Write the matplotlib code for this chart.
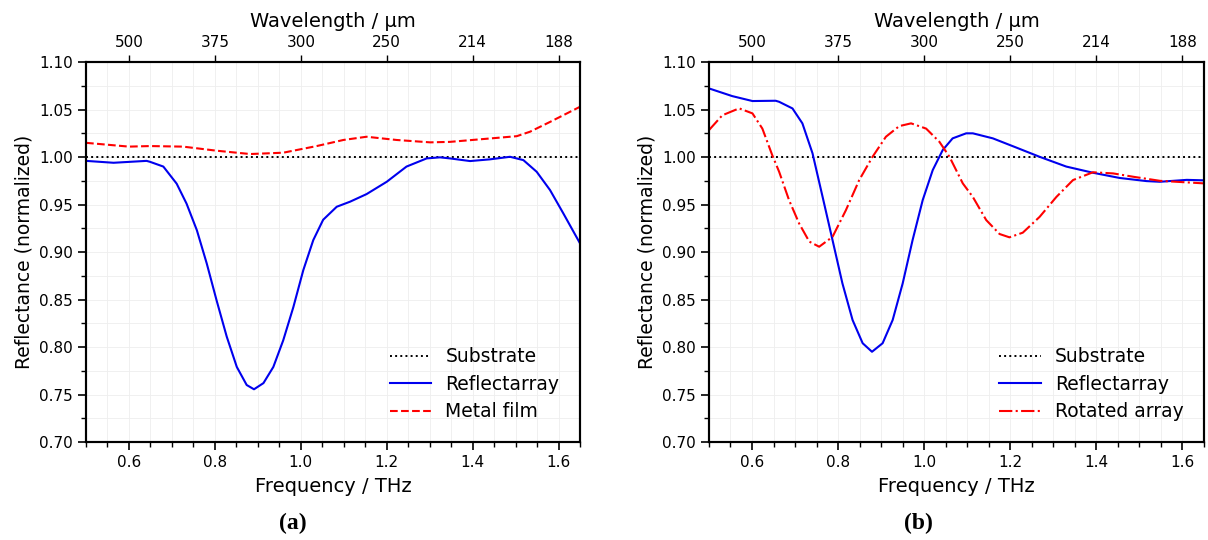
import matplotlib
matplotlib.use("Agg")
import matplotlib.pyplot as plt
from matplotlib.ticker import MultipleLocator

# ---- data ----
fa_refl = [0.50, 0.564, 0.641, 0.649, 0.680, 0.711, 0.734, 0.758, 0.781, 0.804, 0.8275, 0.851,
           0.874, 0.891, 0.913, 0.936, 0.959, 0.9826, 1.0058, 1.029, 1.052, 1.0836, 1.1145,
           1.153, 1.200, 1.246, 1.293, 1.324, 1.347, 1.394, 1.440, 1.487, 1.518, 1.549, 1.580,
           1.611, 1.65]
ra_refl = [0.996, 0.994, 0.996, 0.995, 0.990, 0.972, 0.951, 0.923, 0.888, 0.849, 0.811, 0.779,
           0.760, 0.7555, 0.762, 0.779, 0.807, 0.842, 0.881, 0.9126, 0.934, 0.9477, 0.953,
           0.961, 0.974, 0.990, 0.9986, 0.9997, 0.9986, 0.9958, 0.9976, 1.0003, 0.9968, 0.9845,
           0.9653, 0.9407, 0.909]

fa_metal = [0.50, 0.60, 0.649, 0.726, 0.804, 0.882, 0.959, 1.037, 1.099, 1.153, 1.223, 1.301,
            1.347, 1.425, 1.5026, 1.5335, 1.580, 1.65]
ra_metal = [1.015, 1.011, 1.0116, 1.011, 1.0067, 1.0032, 1.0046, 1.0116, 1.018, 1.0214, 1.018,
            1.0155, 1.016, 1.019, 1.022, 1.0267, 1.037, 1.053]

fb_refl = [0.50, 0.554, 0.601, 0.655, 0.663, 0.694, 0.717, 0.7405, 0.764, 0.787, 0.810, 0.8336,
           0.857, 0.8787, 0.9034, 0.9267, 0.950, 0.973, 0.9965, 1.0198, 1.043, 1.066, 1.0975,
           1.113, 1.1595, 1.214, 1.268, 1.330, 1.392, 1.454, 1.5165, 1.5475, 1.610, 1.65]
rb_refl = [1.0723, 1.0642, 1.059, 1.0593, 1.0582, 1.0512, 1.0355, 1.004, 0.958, 0.9126, 0.867,
           0.8284, 0.804, 0.795, 0.804, 0.8284, 0.867, 0.9126, 0.9547, 0.9863, 1.0074, 1.0197,
           1.025, 1.025, 1.0197, 1.010, 1.0003, 0.990, 0.9835, 0.978, 0.9747, 0.974, 0.976, 0.9755]

fb_rot = [0.50, 0.531, 0.570, 0.601, 0.624, 0.647, 0.663, 0.686, 0.7095, 0.733, 0.756, 0.787,
          0.818, 0.849, 0.880, 0.911, 0.942, 0.9695, 1.0044, 1.0354, 1.0587, 1.0896, 1.113,
          1.144, 1.175, 1.198, 1.229, 1.268, 1.307, 1.3457, 1.392, 1.4388, 1.4853, 1.5475, 1.65]
rb_rot = [1.0284, 1.044, 1.0513, 1.046, 1.030, 1.002, 0.9845, 0.9547, 0.930, 0.911, 0.9056, 0.916,
          0.944, 0.9758, 1.0003, 1.0214, 1.0326, 1.0355, 1.030, 1.016, 1.0003, 0.9723, 0.958,
          0.9337, 0.919, 0.9155, 0.9204, 0.937, 0.958, 0.9758, 0.984, 0.9828, 0.9793, 0.975, 0.9723]

substrate_f = [0.5, 1.65]
substrate_r = [1.0, 1.0]

top_tick_freqs = [0.6, 0.8, 1.0, 1.2, 1.4, 1.6]
top_tick_labels = ['500', '375', '300', '250', '214', '188']

plt.rcParams['font.family'] = ['DejaVu Sans']

fig = plt.figure(figsize=(12.08, 5.40), dpi=100)
axA = fig.add_axes([0.0712, 0.1815, 0.409, 0.7035])
axB = fig.add_axes([0.5869, 0.1815, 0.4098, 0.7035])


def style(ax):
    ax.set_xlim(0.5, 1.65)
    ax.set_ylim(0.70, 1.10)
    ax.xaxis.set_minor_locator(MultipleLocator(0.05))
    ax.yaxis.set_minor_locator(MultipleLocator(0.025))
    ax.set_yticks([0.70, 0.75, 0.80, 0.85, 0.90, 0.95, 1.00, 1.05, 1.10])
    ax.set_yticklabels(['0.70', '0.75', '0.80', '0.85', '0.90', '0.95', '1.00', '1.05', '1.10'])
    ax.set_xticks([0.6, 0.8, 1.0, 1.2, 1.4, 1.6])
    ax.set_xticklabels(['0.6', '0.8', '1.0', '1.2', '1.4', '1.6'])
    ax.grid(True, which='both', color='#eeeeee', linewidth=0.6)
    ax.set_axisbelow(True)
    ax.tick_params(which='major', direction='out', length=6, width=1.2, labelsize=11)
    ax.tick_params(which='minor', direction='out', length=3.5, width=1.0)
    for s in ax.spines.values():
        s.set_linewidth(1.5)
    ax.set_xlabel('Frequency / THz', fontsize=14, labelpad=5)
    ax.set_ylabel('Reflectance (normalized)', fontsize=13.5, labelpad=4)
    top = ax.twiny()
    top.set_xlim(ax.get_xlim())
    top.set_xticks(top_tick_freqs)
    top.set_xticklabels(top_tick_labels)
    top.tick_params(axis='x', direction='out', length=5, width=1.0, labelsize=11)
    top.set_xlabel('Wavelength / μm', fontsize=14, labelpad=6)
    for s in top.spines.values():
        s.set_linewidth(1.5)


style(axA)
axA.plot(substrate_f, substrate_r, color='black', linestyle=':', linewidth=1.4, label='Substrate')
axA.plot(fa_refl, ra_refl, color='#0000ee', linewidth=1.5, label='Reflectarray')
axA.plot(fa_metal, ra_metal, color='#ff0000', linestyle='--', linewidth=1.5, label='Metal film')
axA.legend(loc='lower right', frameon=False, fontsize=13.5, handlelength=2.2, handletextpad=0.75,
           borderaxespad=0.7, labelspacing=0.45)

style(axB)
axB.plot(substrate_f, substrate_r, color='black', linestyle=':', linewidth=1.4, label='Substrate')
axB.plot(fb_refl, rb_refl, color='#0000ee', linewidth=1.5, label='Reflectarray')
axB.plot(fb_rot, rb_rot, color='#ff0000', linestyle='-.', linewidth=1.5, label='Rotated array')
axB.legend(loc='lower right', frameon=False, fontsize=13.5, handlelength=2.2, handletextpad=0.75,
           borderaxespad=0.7, labelspacing=0.45)

fig.text(0.2425, 0.030, '(a)', family='Liberation Serif', fontweight='bold', fontsize=17,
         ha='center', va='center')
fig.text(0.760, 0.030, '(b)', family='Liberation Serif', fontweight='bold', fontsize=17,
         ha='center', va='center')

fig.savefig('out.png', dpi=100)
